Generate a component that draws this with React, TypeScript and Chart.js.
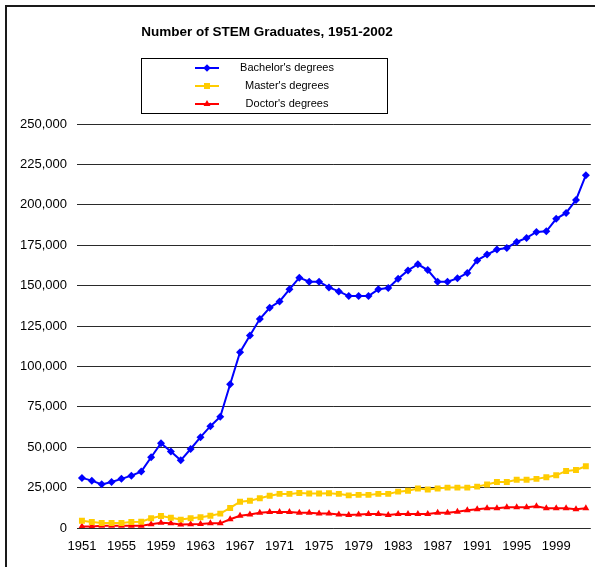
import React, { useEffect, useRef } from 'react';
import { Chart, registerables } from 'chart.js';

Chart.register(...registerables);

const years = [
  '1951', '1952', '1953', '1954', '1955', '1956', '1957', '1958', '1959', '1960',
  '1961', '1962', '1963', '1964', '1965', '1966', '1967', '1968', '1969', '1970',
  '1971', '1972', '1973', '1974', '1975', '1976', '1977', '1978', '1979', '1980',
  '1981', '1982', '1983', '1984', '1985', '1986', '1987', '1988', '1989', '1990',
  '1991', '1992', '1993', '1994', '1995', '1996', '1997', '1998', '1999', '2000',
  '2001', '2002',
];

const bachelors = [
  31000, 29300, 27000, 28500, 30400, 32400, 34900, 43800, 52500, 47300,
  41900, 48900, 56200, 63000, 68800, 89000, 108800, 119100, 129300, 136300,
  140200, 147700, 154900, 152400, 152400, 148900, 146400, 143500, 143500, 143500,
  147700, 148500, 154300, 159400, 163200, 159600, 152400, 152400, 154500, 157800,
  165600, 169200, 172300, 173300, 177000, 179500, 183200, 183600, 191300, 195000,
  203000, 218300,
];

const masters = [
  4500, 3700, 3100, 3100, 3100, 3700, 3900, 6000, 7400, 6400,
  5200, 6000, 6600, 7600, 8900, 12400, 16300, 16900, 18400, 20000,
  21100, 21100, 21700, 21300, 21300, 21500, 21100, 20200, 20500, 20500,
  21100, 21100, 22500, 23100, 24400, 23800, 24400, 25000, 25000, 25000,
  25600, 26900, 28500, 28500, 29800, 29800, 30400, 31400, 32600, 35300,
  35900, 38200,
];

const doctors = [
  1000, 1000, 1400, 1400, 1400, 1400, 1400, 2300, 3300, 2900,
  2100, 2300, 2500, 2900, 2900, 5400, 7600, 8300, 9500, 9900,
  9900, 9900, 9500, 9500, 8900, 8900, 8300, 8100, 8300, 8700,
  8700, 8100, 8700, 8700, 8700, 8700, 9500, 9500, 10100, 11000,
  11600, 12200, 12200, 12800, 12800, 12800, 13400, 12200, 12200, 12200,
  11600, 12200,
];

const seriesLabels = ["Bachelor's degrees", "Master's degrees", "Doctor's degrees"];
const titleText = 'Number of STEM Graduates, 1951-2002';
const yMin = 0;
const yMax = 250000;
const yStep = 25000;
const xLabelEvery = 4;

const FONT = "'Liberation Sans', Arial, sans-serif";

const colors = ['#0000FF', '#FFCC00', '#FF0000'];
const shapes = ['rectRot', 'rect', 'triangle'];

function drawMarker(ctx: CanvasRenderingContext2D, shape: string, x: number, y: number, color: string) {
  ctx.fillStyle = color;
  ctx.beginPath();
  if (shape === 'rectRot') {
    const r = 3.8;
    ctx.moveTo(x, y - r);
    ctx.lineTo(x + r, y);
    ctx.lineTo(x, y + r);
    ctx.lineTo(x - r, y);
    ctx.closePath();
  } else if (shape === 'rect') {
    const s = 3;
    ctx.rect(x - s, y - s, 2 * s, 2 * s);
  } else {
    const r = 4;
    ctx.moveTo(x, y - r);
    ctx.lineTo(x + r * 0.866, y + r * 0.5);
    ctx.lineTo(x - r * 0.866, y + r * 0.5);
    ctx.closePath();
  }
  ctx.fill();
}

const decorPlugin = {
  id: 'decor',
  beforeDraw(chart: any) {
    const ctx = chart.ctx as CanvasRenderingContext2D;
    ctx.save();
    ctx.fillStyle = '#FFFFFF';
    ctx.fillRect(0, 0, chart.width, chart.height);
    ctx.restore();
  },
  afterDraw(chart: any) {
    const ctx = chart.ctx as CanvasRenderingContext2D;
    ctx.save();
    ctx.strokeStyle = '#1a1a1a';
    ctx.lineWidth = 2;
    ctx.beginPath();
    ctx.moveTo(6, chart.height + 5);
    ctx.lineTo(6, 6);
    ctx.lineTo(chart.width + 5, 6);
    ctx.stroke();

    ctx.fillStyle = '#000';
    ctx.font = `bold 13.5px ${FONT}`;
    ctx.textAlign = 'center';
    ctx.textBaseline = 'middle';
    ctx.fillText(titleText, 267, 32);

    ctx.strokeStyle = '#000';
    ctx.lineWidth = 1;
    ctx.strokeRect(141.5, 58.5, 246, 55);
    const rows = [68, 86, 104];
    ctx.font = `11px ${FONT}`;
    chart.data.datasets.forEach((ds: any, i: number) => {
      const y = rows[i];
      ctx.strokeStyle = ds.borderColor;
      ctx.lineWidth = 2;
      ctx.beginPath();
      ctx.moveTo(195, y);
      ctx.lineTo(219, y);
      ctx.stroke();
      drawMarker(ctx, ds.pointStyle, 207, y, ds.borderColor);
      ctx.fillStyle = '#000';
      ctx.textAlign = 'center';
      ctx.textBaseline = 'middle';
      ctx.fillText(ds.label, 287, y);
    });
    ctx.restore();
  },
};

export default function App() {
  const canvasRef = useRef<HTMLCanvasElement | null>(null);

  useEffect(() => {
    document.body.style.margin = '0';
    const canvas = canvasRef.current;
    if (!canvas) return;
    const seriesData = [bachelors, masters, doctors];
    const chart = new Chart(canvas, {
      type: 'line',
      data: {
        labels: years,
        datasets: seriesData.map((d, i) => ({
          label: seriesLabels[i],
          data: d,
          borderColor: colors[i],
          backgroundColor: colors[i],
          pointBackgroundColor: colors[i],
          pointBorderColor: colors[i],
          pointStyle: shapes[i] as any,
          pointRadius: i === 1 ? 4.2 : 4,
          pointBorderWidth: 0,
          borderWidth: 2,
          tension: 0,
          fill: false,
        })),
      },
      options: {
        responsive: false,
        animation: false,
        devicePixelRatio: 1,
        layout: { padding: { top: 124, right: 0, left: 0, bottom: 0 } },
        plugins: {
          legend: { display: false },
          title: { display: false },
          tooltip: { enabled: false },
        },
        scales: {
          x: {
            type: 'category',
            offset: true,
            grid: { display: false, drawTicks: false },
            border: { display: false },
            afterFit: (scale: any) => {
              scale.height = 39;
              scale.paddingRight = 0;
              scale.paddingLeft = 0;
            },
            ticks: {
              autoSkip: false,
              maxRotation: 0,
              minRotation: 0,
              padding: 11,
              color: '#000',
              font: { family: FONT, size: 13 },
              callback: (_v: any, idx: number) => (idx % xLabelEvery === 0 ? years[idx] : ''),
            },
          },
          y: {
            min: yMin,
            max: yMax,
            grid: { color: '#2a2a2a', lineWidth: 1, drawTicks: false },
            border: { display: false },
            afterFit: (scale: any) => {
              scale.width = 77;
            },
            ticks: {
              stepSize: yStep,
              padding: 10,
              color: '#000',
              font: { family: FONT, size: 13 },
              callback: (v: any) => Number(v).toLocaleString('en-US'),
            },
          },
        },
      },
      plugins: [decorPlugin],
    });
    return () => chart.destroy();
  }, []);

  return (
    <div style={{ width: 595, height: 567, position: 'relative' }}>
      <canvas ref={canvasRef} width={595} height={567} style={{ display: 'block' }} />
    </div>
  );
}
